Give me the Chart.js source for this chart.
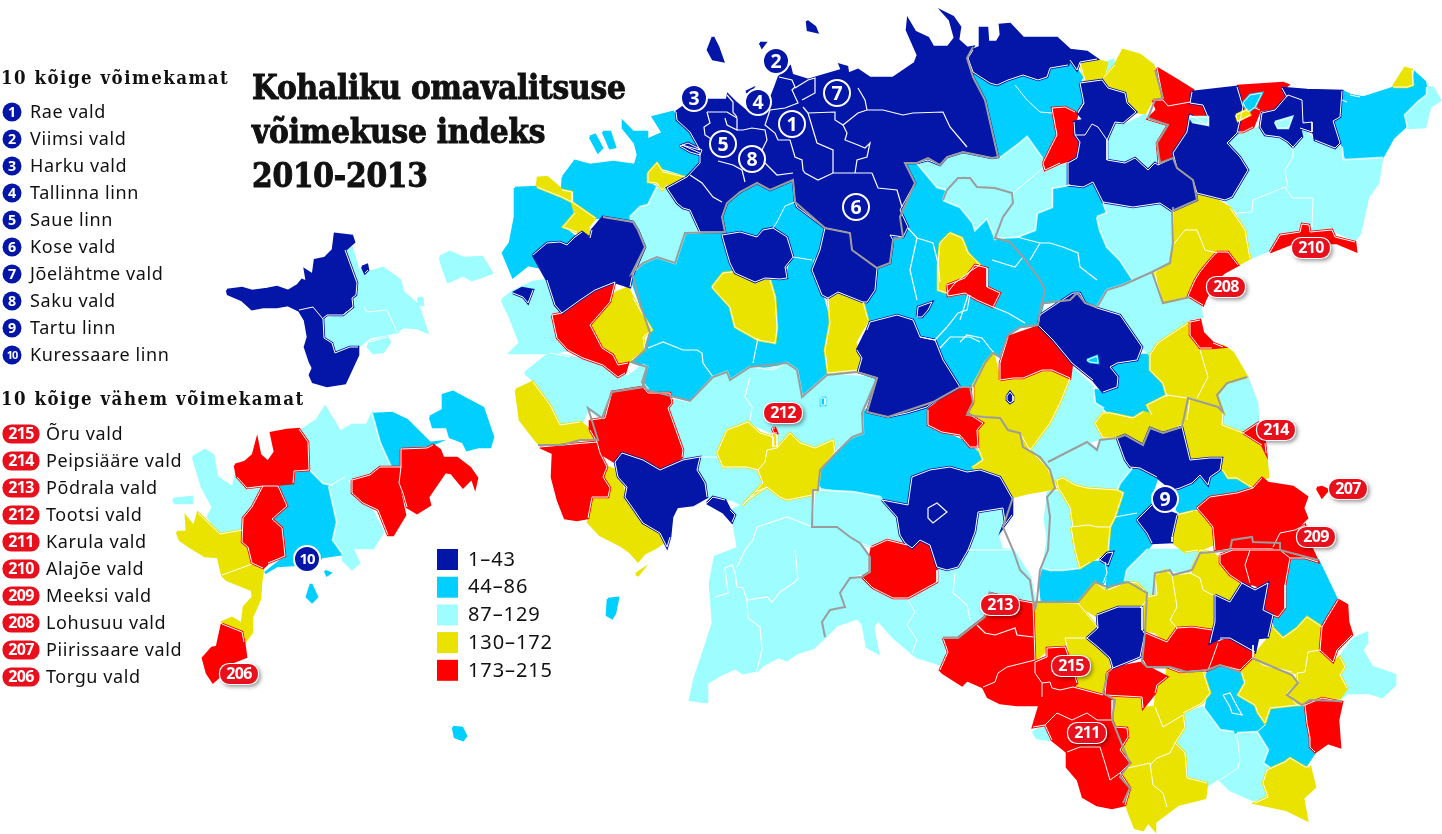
<!DOCTYPE html>
<html lang="et">
<head>
<meta charset="UTF-8">
<title>Kohaliku omavalitsuse võimekuse indeks 2010-2013</title>
<script src="https://cdn.jsdelivr.net/npm/chart.js"></script>
<style>
    html, body { margin: 0; padding: 0; background: #fff; }
    canvas { display: block; }
</style>
</head>
<body>
<canvas id="map" width="1442" height="834"></canvas>
<script>
// texts
const titleLines = ['Kohaliku omavalitsuse', 'võimekuse indeks', '2010-2013'];
const topHeading = '10 kõige võimekamat';
const topRanks = ['1', '2', '3', '4', '5', '6', '7', '8', '9', '10'];
const topNames = ['Rae vald', 'Viimsi vald', 'Harku vald', 'Tallinna linn', 'Saue linn', 'Kose vald', 'Jõelähtme vald', 'Saku vald', 'Tartu linn', 'Kuressaare linn'];
const bottomHeading = '10 kõige vähem võimekamat';
const bottomRanks = ['215', '214', '213', '212', '211', '210', '209', '208', '207', '206'];
const bottomNames = ['Õru vald', 'Peipsiääre vald', 'Põdrala vald', 'Tootsi vald', 'Karula vald', 'Alajõe vald', 'Meeksi vald', 'Lohusuu vald', 'Piirissaare vald', 'Torgu vald'];
const legendLabels = ['1–43', '44–86', '87–129', '130–172', '173–215'];
const legendColors = ['#0316a8', '#00cfff', '#9dfdff', '#eae300', '#ff0000'];

// municipality outlines, flat x,y lists, one list per index class
const class2Shapes = [
    [905,163,917,163,937,187,947,190,943,200,960,207,975,230,987,218,995,238,1017,237,1035,230,1037,213,1052,207,1052,188,1070,185,1088,187,1093,182,1103,202,1107,213,1097,217,1100,230,1107,247,1120,260,1133,280,1122,285,1107,290,1097,306,1085,303,1077,293,1070,300,1043,303,1040,315,1038,325,1020,327,1008,335,1000,357,993,352,982,363,973,387,950,393,960,387,943,360,935,340,920,337,913,320,897,315,870,322,863,310,867,302,875,290,877,268,890,263,893,240,890,235,908,228,900,217,915,183],
    [928,149,937,149,940,165,928,160],
    [632,280,643,263,657,257,675,263,685,233,725,232,735,273,755,282,785,280,793,257,812,260,812,270,822,295,830,323,825,350,828,373,802,397,797,370,787,363,755,368,750,367,730,380,727,372,713,377,690,401,647,390,642,382,647,367,632,362,645,350,650,333,640,303],
    [727,203,740,192,757,183,770,190,793,180,795,202,785,206,777,222,773,228,770,238,763,230,757,237,747,232,737,233,725,232,722,217],
    [785,206,795,202,797,207,825,228,822,247,812,260,793,257,787,237,773,228,777,222],
    [515,188,537,187,562,197,572,202,575,213,563,227,575,237,567,245,560,242,547,243,533,255,538,267,528,265,513,277,503,253,510,243,515,217],
    [563,177,575,161,590,165,613,162,635,165,638,155,635,143,623,128,623,122,633,132,647,132,647,140,663,133,653,117,673,112,677,120,690,132,700,150,682,145,700,153,700,163,687,177,680,173,660,167,648,173,648,183,657,188,648,205,640,207,632,213,633,222,605,217,597,218,572,202,572,192,562,190],
    [590,137,595,135,602,148,598,152], [603,132,610,132,615,147,610,148],
    [973,72,990,83,997,85,1008,80,1023,75,1015,85,1027,100,1040,112,1052,113,1057,133,1055,143,1045,160,1042,158,1027,137,1020,143,1000,158,985,100],
    [1015,85,1023,75,1038,80,1047,77,1050,68,1068,65,1070,60,1077,70,1082,77,1078,85,1083,103,1078,112,1068,107,1060,112,1053,107,1052,113,1040,112,1027,100],
    [1342,102,1362,98,1393,88,1412,87,1415,73,1425,82,1427,95,1418,102,1405,115,1405,127,1393,138,1382,158,1347,162,1343,147,1333,122,1340,117],
    [1342,91,1350,95,1360,97,1347,102,1342,100],
    [820,470,835,452,852,437,863,433,862,413,867,410,888,417,907,413,927,407,928,425,943,432,967,443,983,457,983,462,973,470,960,470,950,467,930,470,912,477,908,503,880,497,853,492,822,487,818,480],
    [1095,390,1103,392,1117,387,1118,377,1110,367,1117,363,1137,360,1142,355,1150,355,1150,370,1163,383,1167,395,1147,405,1152,415,1143,412,1133,418,1110,413,1103,407,1095,403],
    [1132,469,1140,468,1157,478,1153,490,1152,503,1140,515,1115,517,1123,493,1118,487,1120,483],
    [1178,488,1192,483,1200,475,1208,485,1210,477,1220,470,1228,470,1228,478,1247,477,1248,487,1237,493,1210,497,1197,508,1180,512,1177,510],
    [1108,550,1110,527,1115,517,1137,513,1147,533,1152,543,1147,550,1127,570,1125,582,1107,590,1108,570],
    [1040,583,1043,570,1050,572,1063,568,1078,567,1090,562,1105,562,1107,573,1103,583,1095,582,1078,602,1042,602],
    [1290,558,1307,557,1318,560,1337,600,1325,625,1322,625,1307,617,1297,630,1283,638,1275,627,1273,618,1278,617,1285,608,1285,585],
    [1207,673,1222,665,1242,673,1245,683,1238,695,1257,705,1260,715,1265,723,1257,732,1237,733,1223,730,1205,713,1208,697],
    [1265,725,1270,708,1297,705,1305,707,1307,723,1310,738,1315,752,1305,767,1290,758,1285,762,1267,770,1263,762,1268,750,1257,732],
    [430,417,443,410,443,395,453,392,483,408,493,437,490,447,478,447,467,450,463,442,450,437,447,427,433,427],
    [373,414,392,413,407,420,430,443,438,442,427,447,400,450,400,466,390,465,380,443],
    [280,486,294,471,308,470,318,478,329,486,337,522,333,540,343,554,322,557,317,563,293,565,277,566,265,573,285,557,282,528,272,520,287,506],
    [311,584,317,597,312,602,307,597], [325,571,330,573,327,575],
    [608,599,618,598,615,613,612,618,607,615],
    [453,727,462,728,466,736,463,740,455,737]
];
const class3Shapes = [
    [323,320,343,315,363,306,367,312,387,310,397,332,383,335,370,337,358,347,350,347,335,353,332,343,324,338],
    [346,250,352,248,358,270,367,273,383,268,400,280,403,292,418,305,427,332,417,328,403,327,397,332,387,310,367,312,363,306,343,315,353,307,352,298,356,295,357,283],
    [370,342,387,337,390,342,383,352,373,353,368,347],
    [440,257,450,252,463,258,482,257,492,273,472,280,463,275,448,282,442,265],
    [418,298,422,298,423,305,419,305],
    [300,431,317,420,325,407,333,420,340,432,352,425,367,425,372,414,380,443,390,465,370,475,352,480,345,477,333,485,323,483,310,470,309,443,303,433],
    [193,457,205,450,213,455,217,477,233,488,235,478,245,488,260,487,252,507,243,517,243,530,220,534,208,517,213,507,202,487],
    [329,486,345,477,352,488,370,506,383,532,373,548,352,548,359,563,352,569,343,560,343,554,333,540,337,522],
    [173,499,192,497,192,503,175,503],
    [1105,63,1113,60,1115,67,1108,71],
    [1112,123,1125,125,1145,115,1153,120,1170,125,1155,143,1158,163,1155,163,1148,170,1135,158,1125,163,1107,160,1107,140],
    [1227,142,1237,133,1260,128,1265,135,1280,137,1288,143,1293,157,1285,170,1285,187,1253,200,1252,212,1238,213,1225,200,1232,197,1248,170,1240,157,1228,157],
    [1293,147,1302,128,1313,140,1335,148,1342,148,1343,160,1382,158,1378,183,1368,197,1360,233,1355,240,1333,230,1312,230,1313,198,1292,198,1288,187,1285,170,1293,157],
    [1238,213,1252,212,1253,200,1285,187,1292,198,1313,198,1312,227,1300,232,1280,237,1270,250,1250,258,1243,227],
    [1427,87,1433,88,1440,100,1430,107,1425,127,1408,128,1405,115,1418,102,1427,95],
    [1097,217,1107,213,1103,202,1133,207,1160,204,1172,210,1173,243,1170,263,1152,272,1133,280,1120,260,1107,247,1100,230],
    [917,163,928,158,940,165,947,157,963,152,992,158,1000,158,1020,143,1027,137,1042,158,1043,168,1028,178,1013,192,995,188,977,187,970,178,958,178,947,190,937,187],
    [943,200,947,190,958,178,970,178,977,187,995,188,1012,193,1013,203,1003,217,995,238,987,218,975,230,973,223,960,207],
    [1013,193,1043,168,1068,165,1070,185,1052,188,1052,207,1037,213,1035,230,1017,237,995,238,1003,217,1013,203],
    [630,217,640,207,648,205,657,187,662,190,667,188,677,203,683,208,690,210,700,232,685,233,675,263,657,257,643,263,632,273,643,247,638,230],
    [502,300,512,292,533,282,547,280,555,305,562,313,552,315,557,338,568,350,550,353,525,353,510,353,520,343,510,317,505,307],
    [525,373,550,353,570,357,597,362,613,370,628,377,643,365,647,367,642,382,647,388,612,392,605,418,600,418,588,408,582,422,562,425,550,405,537,383],
    [672,398,690,402,713,377,727,372,730,380,750,367,773,370,787,363,797,370,802,397,827,375,877,378,862,413,863,433,852,437,835,452,833,440,815,448,800,443,790,433,778,445,773,433,748,422,727,430,717,457,700,456,683,457,683,450,673,417,668,408,675,405],
    [700,457,717,457,722,473,723,467,758,470,763,483,755,492,743,505,733,500,707,497,705,483,697,470],
    [735,515,733,510,743,505,755,492,767,487,780,497,787,500,813,490,812,527,837,527,850,537,860,543,870,557,870,572,862,577,850,578,840,593,845,607,830,610,822,622,825,637,813,648,797,653,787,660,778,657,763,665,758,670,743,673,735,668,720,675,707,683,707,702,690,700,695,677,702,657,713,623,710,583,715,557,738,548,733,520],
    [815,490,853,492,880,497,897,517,900,535,905,543,887,540,872,547,860,543,850,537,837,527,812,527],
    [825,637,822,622,830,610,845,607,840,593,850,578,862,575,873,588,893,598,908,600,915,612,907,625,917,640,912,653,893,637,878,620,873,627,878,653,867,647,863,625,858,618,837,625],
    [978,512,1003,508,1005,522,998,537,1002,550,1013,550,968,550,975,532],
    [937,570,958,567,968,550,1013,550,1030,577,1035,603,1017,598,992,593,988,593,983,617,977,623,958,638,945,638,943,665,917,657,912,653,917,640,907,625,915,612,908,600,935,583],
    [1030,450,1050,423,1060,403,1070,378,1072,368,1082,377,1093,387,1095,403,1103,408,1095,423,1103,438,1088,442,1048,460,1047,467],
    [1097,307,1107,290,1123,285,1152,272,1163,303,1190,297,1200,305,1202,317,1193,318,1188,322,1158,343,1150,355,1142,347,1120,315],
    [1247,377,1257,403,1258,420,1243,433,1222,425,1223,412,1217,395,1227,383],
    [1048,462,1088,442,1097,450,1103,438,1117,438,1125,460,1132,468,1120,483,1117,490,1087,488,1067,483,1057,487,1050,467],
    [1048,492,1067,492,1070,507,1073,527,1075,550,1080,568,1063,570,1050,570,1043,568,1048,540,1045,520],
    [1127,570,1147,550,1197,550,1195,562,1187,573,1170,570,1163,577,1155,573,1157,595,1147,593,1133,582,1125,580],
    [1033,732,1043,727,1052,740,1037,738],
    [1183,715,1203,707,1220,730,1233,732,1240,760,1238,768,1220,777,1208,785,1187,778,1185,753,1175,743,1180,738],
    [1237,733,1257,732,1268,750,1263,763,1270,768,1263,783,1268,797,1253,800,1230,790,1220,780,1238,768,1240,760],
    [1340,657,1350,643,1355,638,1367,633,1367,643,1362,650,1372,667,1395,675,1395,685,1382,697,1370,693,1348,693,1340,698,1347,688,1340,675,1345,667]
];
const class4Shapes = [
    [177,532,187,532,186,517,194,527,198,513,220,534,243,530,242,543,248,547,251,563,222,574,218,557,205,556,190,547,180,540],
    [222,575,252,564,263,568,261,583,260,599,252,617,252,632,245,642,242,630,232,627,223,622,232,618,242,624,244,607,253,597,252,590,227,580],
    [537,187,538,178,547,177,562,190,572,192,572,202,595,218,588,227,590,239,577,232,563,227,575,213,572,202,562,197],
    [648,173,657,163,663,172,685,177,667,185,662,190,657,183,648,182],
    [615,293,628,288,633,298,640,310,652,330,643,337,645,350,632,360,618,367,613,355,602,348,590,325,610,302],
    [712,287,723,273,733,272,757,283,770,280,775,297,777,328,775,343,758,340,735,327,730,307],
    [828,298,838,292,863,302,868,320,855,342,860,357,857,370,828,373,825,350,830,323],
    [940,243,950,233,962,238,968,253,980,265,972,270,955,283,947,293,938,290,938,265],
    [516,390,533,382,550,405,560,425,580,422,590,430,598,440,580,440,562,445,538,443,520,420],
    [607,467,615,470,620,480,627,500,632,507,643,523,663,530,667,540,655,548,645,553,638,561,630,552,620,545,600,535,588,522,592,497,608,497,610,488,603,477],
    [636,574,642,570,638,575],
    [717,453,727,430,748,422,760,433,773,437,773,447,767,450,763,462,758,470,747,467,737,467,723,467],
    [772,433,777,435,777,447,773,445],
    [758,470,765,462,767,450,777,448,790,433,800,443,815,448,833,440,835,452,820,470,818,490,812,495,787,500,780,497,767,487,758,493,747,500,743,505,755,492,763,483],
    [1080,63,1097,60,1107,63,1103,78,1093,82,1085,80],
    [1103,78,1115,65,1123,50,1140,55,1153,65,1163,98,1153,98,1145,113,1135,112,1125,93,1108,88],
    [1393,87,1405,68,1412,70,1413,85,1407,87],
    [1173,220,1173,207,1195,202,1197,193,1213,198,1230,208,1245,230,1248,248,1250,258,1237,265,1227,252,1217,253,1205,250,1197,230,1185,230,1173,243],
    [1155,272,1170,263,1173,245,1185,230,1197,230,1205,250,1217,253,1208,262,1200,272,1195,280,1188,297,1163,303,1157,283],
    [970,413,973,402,972,387,985,363,993,353,1000,380,1013,378,1023,378,1042,370,1052,370,1070,378,1060,403,1050,423,1030,450,1020,433,1008,430,1000,418,983,417],
    [967,415,983,417,1000,418,1008,430,1020,433,1030,450,1047,467,1057,488,1028,493,1012,497,1000,477,980,473,973,467,983,460,977,445,978,430],
    [1158,343,1188,323,1192,335,1200,350,1208,377,1197,398,1187,398,1167,397,1163,383,1150,370,1150,355],
    [1200,350,1212,348,1223,346,1233,353,1247,377,1227,383,1217,395,1223,412,1218,407,1197,398,1208,377],
    [1095,423,1103,413,1110,413,1133,418,1143,412,1152,415,1147,405,1167,395,1187,398,1190,398,1187,420,1163,433,1150,428,1143,445,1117,438,1103,438],
    [1190,398,1218,407,1223,412,1222,425,1243,433,1262,445,1266,453,1268,477,1258,480,1253,488,1237,478,1228,478,1223,470,1210,458,1190,460,1182,433,1187,420],
    [1057,480,1063,478,1075,485,1087,488,1117,490,1123,493,1115,517,1110,527,1098,527,1088,525,1073,527,1070,507,1058,487],
    [1071,527,1088,525,1098,527,1110,527,1108,550,1090,562,1080,568,1075,550],
    [1173,523,1177,515,1193,511,1205,515,1208,525,1220,532,1217,542,1207,547,1198,550,1185,552,1170,540],
    [1172,575,1192,573,1200,578,1203,590,1213,595,1215,622,1212,630,1192,627,1177,628,1170,620,1177,607],
    [1142,623,1147,597,1157,595,1155,575,1165,570,1172,575,1177,607,1170,620,1177,628,1167,642,1155,632,1143,630],
    [1190,573,1197,557,1200,550,1213,553,1242,583,1230,602,1213,595,1203,590,1200,578],
    [1078,602,1095,582,1105,590,1108,590,1127,582,1137,583,1147,593,1147,600,1140,608,1125,607,1118,607,1100,612,1095,615,1082,607],
    [1035,602,1078,603,1098,628,1087,638,1068,638,1063,650,1047,650,1035,660,1033,643],
    [1065,638,1087,638,1098,647,1110,658,1108,673,1103,693,1090,690,1075,685,1068,650],
    [1155,707,1157,685,1167,677,1167,668,1203,672,1210,693,1202,703,1183,713,1163,727],
    [1112,697,1143,698,1145,708,1155,707,1163,727,1183,715,1185,727,1175,743,1170,753,1157,758,1150,763,1128,768,1130,763,1120,750,1128,737,1127,728,1115,727,1112,720],
    [1150,765,1157,758,1170,753,1175,743,1185,753,1187,778,1207,783,1205,798,1177,805,1167,805,1163,793,1153,785],
    [1120,777,1128,768,1150,763,1153,785,1163,793,1167,807,1175,807,1155,822,1155,830,1148,822,1143,830,1135,828,1128,810,1127,805,1130,788],
    [1240,663,1253,657,1263,665,1292,676,1298,683,1287,693,1297,705,1270,708,1265,723,1258,713,1255,705,1238,695,1245,683,1242,673],
    [1253,657,1267,640,1273,628,1283,638,1297,628,1307,617,1322,627,1320,650,1308,652,1305,672,1297,673,1292,672,1263,665],
    [1297,673,1305,672,1308,652,1320,650,1333,662,1340,657,1345,667,1340,675,1347,688,1340,698,1322,698,1305,705,1297,705,1287,693,1298,683],
    [1267,770,1285,762,1290,758,1305,767,1310,767,1315,787,1303,798,1307,820,1287,810,1255,803,1268,797,1263,783]
];
const class5Shapes = [
    [235,465,245,462,253,455,257,440,260,455,268,462,275,452,271,433,287,430,299,429,308,442,309,470,294,471,293,483,263,486,247,488,237,477],
    [263,486,278,486,287,506,272,519,282,528,285,556,268,563,263,568,252,563,248,547,242,542,243,518,252,507],
    [352,480,370,475,380,467,401,467,398,483,405,515,393,535,388,535,378,510,363,503,352,493],
    [401,449,427,448,433,445,440,450,443,458,457,458,470,468,477,478,475,487,472,478,463,487,453,475,462,475,445,472,441,478,428,497,430,505,417,513,407,507,403,493,399,483,401,467],
    [222,624,242,632,244,642,246,657,233,662,223,673,213,682,207,673,203,658,212,648,217,647],
    [552,315,562,313,580,300,595,290,615,282,610,302,590,325,602,348,613,355,618,365,628,363,625,373,618,377,603,365,583,358,568,350,557,338],
    [590,420,605,418,612,392,643,387,648,393,670,393,672,403,668,408,683,450,682,457,663,472,643,460,622,453,615,462,600,453,597,442,590,430],
    [540,447,562,445,597,442,600,453,607,467,603,477,610,488,608,497,592,497,588,518,577,520,565,518,558,500,552,477,553,453],
    [772,428,775,428,777,433,774,433],
    [1043,163,1057,135,1052,108,1065,107,1075,112,1077,115,1074,127,1075,135,1079,143,1077,158,1060,163,1045,170],
    [1078,112,1084,103,1089,110,1085,115],
    [1157,68,1177,80,1193,90,1190,103,1168,106,1163,99],
    [1153,100,1163,100,1168,106,1190,102,1203,106,1208,118,1190,115,1187,132,1180,147,1170,152,1173,157,1159,165,1157,143,1168,125,1148,119,1157,110],
    [1237,86,1283,83,1288,85,1282,90,1287,97,1275,108,1262,110,1255,103,1262,93,1250,93,1243,110],
    [1237,122,1248,118,1255,108,1260,110,1253,127,1243,132,1238,132],
    [1270,252,1280,235,1300,232,1302,224,1309,225,1310,232,1332,230,1335,237,1355,242,1356,251,1337,243,1293,243],
    [1217,252,1228,252,1238,265,1225,272,1215,280,1205,300,1203,305,1188,296,1195,280,1200,272,1208,262],
    [947,285,965,278,975,265,987,268,987,287,1000,293,993,307,977,300,965,293,948,296],
    [928,410,950,393,970,387,973,387,973,403,967,413,983,423,977,430,978,447,970,447,960,435,942,432,928,425],
    [1000,380,1000,363,1008,337,1037,327,1053,340,1072,363,1070,378,1052,370,1042,370,1023,378,1013,378],
    [1190,322,1200,320,1203,333,1213,343,1223,347,1212,348,1200,348,1190,335],
    [1243,433,1258,423,1265,443,1266,453,1262,445],
    [1317,488,1322,487,1328,490,1322,497],
    [1197,508,1210,497,1237,493,1253,488,1262,478,1268,483,1293,487,1307,497,1303,508,1307,518,1295,530,1280,533,1273,547,1230,547,1215,550,1213,527,1205,517],
    [1280,533,1295,530,1305,525,1310,545,1318,562,1305,558,1290,558,1280,550,1273,547],
    [1220,555,1233,550,1250,550,1245,565,1252,580,1248,590,1242,583,1230,575,1220,563],
    [1250,550,1280,550,1290,558,1285,585,1285,608,1278,617,1273,615,1263,610,1268,583,1263,588,1250,583,1245,565],
    [1338,600,1347,605,1348,622,1352,635,1337,650,1333,662,1320,650,1322,627,1327,618],
    [1305,705,1322,698,1342,702,1338,720,1340,747,1328,743,1315,752,1310,747,1310,738,1307,723],
    [862,577,870,572,870,557,872,547,887,540,907,545,912,550,920,542,930,543,937,570,937,582,917,593,908,598,893,598,873,588],
    [943,638,958,638,977,623,985,617,990,593,1017,600,1033,603,1035,660,1007,667,998,673,995,682,983,687,967,680,962,685,943,673,940,670,948,652],
    [983,687,995,682,998,673,1007,667,1035,660,1043,693,1038,705,1017,705,1000,703,988,697],
    [1035,662,1047,657,1047,648,1065,647,1068,655,1077,683,1073,687,1060,690,1052,688,1050,682,1042,683,1035,673],
    [1042,683,1050,682,1052,688,1060,690,1073,687,1103,695,1112,700,1112,720,1097,720,1087,713,1072,720,1057,713,1045,725,1033,727,1042,697],
    [1045,725,1057,713,1072,720,1087,713,1097,720,1112,720,1115,727,1127,728,1128,737,1120,750,1130,763,1120,773,1110,780,1105,763,1100,747,1080,747,1067,752,1052,740],
    [1067,752,1080,747,1100,747,1105,763,1110,780,1120,773,1130,788,1125,805,1112,808,1097,805,1083,797,1078,780,1067,767],
    [1107,673,1113,668,1140,663,1157,672,1167,677,1157,685,1155,693,1143,708,1142,697,1105,695],
    [1143,632,1167,642,1177,628,1192,627,1212,630,1217,643,1213,657,1207,670,1180,672,1167,667,1147,667,1143,660],
    [1212,660,1218,643,1230,638,1253,645,1253,657,1240,670,1220,665,1208,670]
];
const class1Shapes = [
    [227,290,242,288,252,291,267,289,277,287,288,291,298,285,302,280,307,282,305,270,313,275,315,260,325,258,333,250,335,234,352,236,354,242,345,250,357,283,356,295,352,298,353,307,343,315,327,315,322,319,313,307,298,310,288,305,277,307,263,307,252,309,242,300,228,294],
    [299,310,313,307,323,319,324,338,332,343,335,353,350,347,358,347,358,355,345,383,327,386,313,382,310,375,313,368,310,362,305,347,308,337,305,320],
    [362,267,367,265,368,270,365,273],
    [676,112,683,107,707,100,727,100,728,95,735,102,747,112,767,108,775,88,779,77,790,67,792,75,808,80,825,75,842,70,840,65,847,67,848,74,858,70,870,78,893,78,915,63,918,55,907,30,908,20,915,32,928,38,933,47,948,47,955,38,950,20,943,12,953,17,960,27,958,40,967,48,973,47,967,58,973,77,985,100,998,157,992,158,963,152,947,157,940,165,928,160,917,163,905,163,915,183,900,210,908,227,903,237,890,235,893,240,890,263,877,268,852,250,850,233,825,228,797,207,795,202,793,180,770,190,757,183,740,192,727,203,722,217,725,232,700,232,690,210,683,208,677,203,667,188,687,177,700,163,700,153,682,145,700,150,690,132,677,120],
    [680,146,688,143,702,150,700,155,690,152],
    [713,37,718,47,723,61,713,59,708,50],
    [807,21,815,27,817,32,808,30],
    [760,43,765,43,762,47],
    [746,92,752,89,750,92],
    [968,58,973,50,980,47,980,28,987,28,988,42,997,42,1001,35,1000,25,1010,24,1023,38,1057,38,1070,50,1087,52,1097,59,1080,62,1077,70,1070,60,1068,65,1050,68,1047,77,1038,80,1023,75,1008,80,997,85,990,83,973,72],
    [1080,83,1102,80,1108,88,1125,93,1127,103,1136,112,1123,123,1115,122,1107,140,1098,127,1092,124,1085,135,1075,135,1074,122,1084,120,1078,113,1084,103],
    [1068,163,1077,158,1080,142,1075,135,1085,135,1092,124,1098,127,1107,140,1107,160,1125,163,1135,158,1148,170,1155,163,1158,165,1173,158,1177,168,1193,180,1197,200,1172,211,1160,203,1133,207,1103,202,1093,182,1083,187,1068,185],
    [1192,92,1237,87,1243,107,1237,133,1227,143,1240,157,1248,170,1232,197,1225,200,1197,193,1193,180,1177,168,1173,153,1187,132,1190,115,1208,125,1208,117,1203,105,1190,103],
    [1282,88,1307,90,1342,91,1340,117,1333,121,1340,143,1335,148,1315,140,1312,122,1303,120,1303,100,1290,94,1287,97],
    [1288,95,1302,100,1303,123,1312,122,1312,132,1300,128,1302,137,1293,147,1288,142,1280,137,1265,135,1260,127,1262,113,1275,110],
    [533,255,547,243,560,242,567,245,575,237,582,232,590,238,592,230,603,217,633,222,638,230,645,247,632,277,630,287,615,282,595,290,580,300,562,313,555,305,547,280],
    [513,293,522,288,533,290,528,303,523,297],
    [722,235,740,232,757,237,763,230,773,228,787,237,793,257,785,267,787,278,780,279,765,278,755,282,735,273,730,263,727,253],
    [825,228,850,233,852,250,877,268,875,290,867,302,863,302,838,292,828,298,822,295,812,270,820,250],
    [857,350,867,330,870,322,897,315,913,320,920,337,935,340,943,360,960,387,933,402,927,407,907,413,888,417,867,412,877,378,858,372,862,358],
    [917,317,918,307,932,302,928,310,922,317],
    [615,462,622,453,643,460,660,470,683,460,700,457,697,470,705,483,707,497,693,505,677,507,672,517,670,537,667,547,660,533,643,523,632,507,625,497,627,487,618,477],
    [707,503,713,497,725,500,730,510,735,515,732,522,723,512],
    [882,500,908,505,912,477,930,470,950,467,967,472,980,470,1000,477,1012,498,1012,515,1003,527,1005,522,1003,508,978,512,975,532,968,550,958,567,947,570,937,567,930,545,920,540,912,548,905,543,900,535,897,517],
    [1040,315,1073,293,1080,293,1085,303,1097,308,1120,315,1142,347,1137,360,1117,363,1110,367,1118,377,1117,387,1103,392,1093,380,1072,363,1053,340,1038,325],
    [1007,396,1010,392,1013,396,1013,401,1010,403,1007,400],
    [1117,438,1125,435,1143,445,1150,428,1163,433,1182,427,1190,460,1210,458,1222,458,1220,470,1210,477,1208,485,1200,475,1192,483,1180,488,1173,490,1157,477,1140,468,1130,467,1125,460],
    [1137,520,1152,505,1177,515,1172,537,1172,542,1152,543,1147,533],
    [1100,560,1107,553,1113,552,1108,565],
    [1215,595,1230,602,1242,583,1255,590,1268,583,1263,610,1273,615,1268,637,1258,638,1255,652,1230,638,1220,638,1210,643,1215,622],
    [1097,615,1118,607,1142,607,1142,630,1145,633,1140,657,1113,668,1110,658,1098,647,1087,638,1098,628]
];
// small spots lying on top of other municipalities, with their class
const spotShapes = [
    [1243,103,1250,95,1262,93,1255,107,1248,112],
    [1236,115,1247,110,1250,115,1238,121],
    [1275,122,1292,117,1288,128,1283,128,1278,128],
    [1190,117,1208,117,1208,125,1193,122],
    [1087,360,1097,356,1098,363,1090,362],
    [821,398,825,398,825,405,821,405]
];
const spotClasses = [2, 4, 3, 3, 2, 2];

// white municipality lines inside same-coloured areas
const innerLines = [
    [779,77,792,80,795,87,792,90,798,103,785,108,770,110,765,125,775,133,778,140,790,140,795,157,802,160,803,170,805,173,818,180,833,173,855,173,872,173],
    [872,173,878,188,897,190,902,207],
    [833,173,833,150,817,143,808,113,835,112,835,120,843,125,858,113,867,110,883,110,903,115,913,113,943,112,950,127,967,147],
    [858,88,865,100,867,110],
    [843,125,847,133,845,140,858,145,865,148,870,143,867,157,857,160,855,173],
    [795,88,808,80,815,78,815,93,802,100],
    [803,107,808,113],
    [707,112,727,112,737,118,737,130,727,125,725,118],
    [707,112,710,123,704,127,705,135,713,140],
    [727,95,733,102,733,112,737,117],
    [737,130,743,130,752,128,765,130,767,140,762,150],
    [718,161,733,165,742,170,745,182],
    [765,163,777,175,793,173],
    [690,175,702,183,713,197,722,202],
    [648,348,663,342,683,350,697,350,702,353,703,363,713,377],
    [758,338,753,363],
    [908,228,917,238,910,270,917,300],
    [917,238,933,243,938,263,940,282],
    [920,337,935,340,947,327,958,313,967,310,970,295],
    [940,348,950,337,970,337,980,342],
    [960,320,968,295],
    [993,307,1008,313,1025,323],
    [960,342,967,335,982,338,993,352],
    [1017,237,1040,243,1050,243,1063,247,1078,253,1080,267,1097,280],
    [1030,260,1040,243],
    [992,260,1015,267,1023,257],
    [750,377,745,397,752,407,750,420],
    [715,597,728,593,725,568,732,565,735,572,737,587,743,588,747,600,767,597,772,602,780,592,795,582,798,578,795,550],
    [747,600,748,618,760,627,762,650,757,670],
    [737,567,745,550],
    [745,550,753,540,757,527,787,517,813,527],
    [955,573,953,593,967,605,970,620],
    [928,508,937,503,947,512,933,523,928,518,928,508],
    [977,625,985,633,995,635,1015,628,1017,635,1033,637],
    [1223,695,1230,693,1238,708,1242,715,1232,713,1230,707,1223,695]
];
// grey county lines
const countyLines = [
    [603,217,633,222,638,230,645,247,632,273,643,263,657,257,675,263,685,233,725,232,722,217,727,203,740,192,757,183,770,190,793,180,795,202,825,228,850,233,852,250,877,268,890,263,893,240,903,237,900,217,915,183,905,163,917,163,928,158,940,165,947,157,963,152,992,158,998,157,985,100,973,77,967,58,973,47],
    [632,273,640,303,650,333,645,350,632,362,647,367,642,382,647,390,690,401,713,377,727,372,730,380,750,367,787,363,797,370,802,397,827,375,857,372,877,378,867,412,888,417,933,402,960,387,970,387,973,402,967,415,983,417,1000,418,1008,430,1020,433,1023,447,1040,457,1050,470,1055,488,1047,497,1050,517,1048,550,1040,570,1037,600,1035,610],
    [943,200,947,190,958,178,970,178,977,187,995,188,1012,193,1013,203,1003,217,995,238,1010,242,1023,257,1040,280,1045,290,1040,310,1043,303,1070,300,1077,293,1085,303,1097,307,1107,290,1123,285,1152,272,1170,263,1173,243,1172,211,1197,200,1193,180,1177,168,1173,158,1160,163,1157,143,1168,125,1148,118,1155,100,1163,98,1155,70],
    [973,387,985,363,993,353,1000,357,1008,335,1020,327,1038,325,1040,310],
    [1152,272,1163,303,1190,297],
    [877,378,862,413,863,433,852,437,837,452,820,470,818,490,813,490,812,527,837,527,850,537,860,543,870,557,870,572,862,577,850,578,840,593,845,607,830,610,822,622,825,637],
    [1048,462,1087,442,1097,450,1100,440,1117,438,1125,435,1143,445,1150,428,1163,433,1182,427,1188,398,1218,407,1223,412,1217,395,1227,383,1247,377],
    [1035,602,1078,602,1095,582,1107,587,1128,582,1147,593,1145,633,1142,662,1147,667,1170,667,1187,672,1207,670,1220,665,1240,672],
    [1252,658,1292,675,1298,683,1287,695,1302,705,1310,700,1342,701],
    [1108,673,1103,693,1115,700,1112,720,1127,757,1130,763,1120,777,1130,788,1123,803],
    [1153,595,1155,573,1170,570,1173,575,1192,570,1200,553,1213,552,1230,550,1232,540,1252,537,1253,542,1280,543,1280,550,1318,560],
    [538,445,562,445,580,440,598,440,588,408,602,418,612,392,643,387,647,367],
    [1013,497,1003,527,1013,550,1020,570,1030,580,1033,600,1035,610],
    [943,638,958,638,977,623,985,617,990,593,1017,600]
];

// where the rank badges sit on the map
const blueSpots = [[792,124],[776,61],[694,98],[758,102],[723,144],[856,207],[837,93],[752,159],[1165,499],[307,559]];
const redSpots = [[1071,666],[1276,430],[1000,605],[783,413],[1087,733],[1311,248],[1316,537],[1226,287],[1348,489],[239,674]];

const BLUE = legendColors[0];

function toPoints(flat, closed) {
    const pts = [];
    for (let i = 0; i < flat.length; i += 2) {
        pts.push({ x: flat[i], y: flat[i + 1] });
    }
    if (closed) pts.push({ x: flat[0], y: flat[1] });
    return pts;
}

// own-coloured border so that neighbours touch, the white edges come later
function shapeDataset(flat, color) {
    return {
        data: toPoints(flat, true),
        backgroundColor: color,
        borderColor: color,
        borderWidth: 2.6,
        fill: 'shape',
        pointRadius: 0,
        tension: 0
    };
}

function lineDataset(pts, color, width) {
    return {
        data: pts,
        borderColor: color,
        borderWidth: width,
        fill: false,
        pointRadius: 0,
        tension: 0
    };
}

// painted in this order, first ones at the bottom
const allShapes = [];
class2Shapes.forEach(s => allShapes.push([s, legendColors[1]]));
class3Shapes.forEach(s => allShapes.push([s, legendColors[2]]));
class4Shapes.forEach(s => allShapes.push([s, legendColors[3]]));
class5Shapes.forEach(s => allShapes.push([s, legendColors[4]]));
class1Shapes.forEach(s => allShapes.push([s, legendColors[0]]));
spotShapes.forEach((s, i) => allShapes.push([s, legendColors[spotClasses[i] - 1]]));

function isInside(flat, x, y) {
    let hit = false;
    const n = flat.length;
    for (let i = 0, j = n - 2; i < n; j = i, i += 2) {
        const yi = flat[i + 1], yj = flat[j + 1];
        if ((yi > y) !== (yj > y) && x < (flat[j] - flat[i]) * (y - yi) / (yj - yi) + flat[i]) {
            hit = !hit;
        }
    }
    return hit;
}

// an edge gets a white line only if a shape painted earlier lies behind it, coast edges stay plain
function sharedEdgeRuns(index) {
    const flat = allShapes[index][0];
    const runs = [];
    let run = null;
    const n = flat.length;
    for (let i = 0; i < n; i += 2) {
        const ax = flat[i], ay = flat[i + 1];
        const bx = flat[(i + 2) % n], by = flat[(i + 3) % n];
        const len = Math.hypot(bx - ax, by - ay) || 1;
        const mx = (ax + bx) / 2, my = (ay + by) / 2;
        let ox = mx - (by - ay) / len * 5, oy = my + (bx - ax) / len * 5;
        if (isInside(flat, ox, oy)) {
            ox = mx + (by - ay) / len * 5;
            oy = my - (bx - ax) / len * 5;
        }
        let shared = false;
        for (let k = 0; k < index && !shared; k++) {
            shared = isInside(allShapes[k][0], ox, oy);
        }
        if (shared) {
            if (!run) {
                run = [{ x: ax, y: ay }];
                runs.push(run);
            }
            run.push({ x: bx, y: by });
        } else {
            run = null;
        }
    }
    return runs;
}

const painted = allShapes.map(s => shapeDataset(s[0], s[1]));
allShapes.forEach((s, i) => {
    sharedEdgeRuns(i).forEach(r => painted.push(lineDataset(r, '#ffffff', 1)));
});
innerLines.forEach(l => painted.push(lineDataset(toPoints(l, false), '#ffffff', 1.2)));
countyLines.forEach(l => painted.push(lineDataset(toPoints(l, false), '#9c9c9c', 2)));

const SLAB = '"DejaVu Serif Condensed", "DejaVu Serif"';
const SANS = '"Noto Sans"';

function setText(ctx, font, color, align, spacing) {
    ctx.font = font;
    ctx.fillStyle = color;
    ctx.textAlign = align || 'left';
    ctx.textBaseline = 'middle';
    ctx.letterSpacing = spacing || '0px';
}

function drawBluePin(ctx, x, y, r, label, ring) {
    ctx.beginPath();
    ctx.arc(x, y, r, 0, Math.PI * 2);
    ctx.fillStyle = BLUE;
    ctx.fill();
    if (ring) {
        ctx.lineWidth = 2;
        ctx.strokeStyle = '#ffffff';
        ctx.stroke();
    }
    const size = label.length > 1 ? r * 1.15 : r * 1.5;
    setText(ctx, 'bold ' + size + 'px ' + SANS, '#ffffff', 'center', label.length > 1 ? '-1px' : '0px');
    ctx.fillText(label, x, y + 1);
}

function drawRedPill(ctx, x, y, w, h, label, onMap) {
    ctx.save();
    ctx.beginPath();
    ctx.roundRect(x - w / 2, y - h / 2, w, h, h / 2.2);
    if (onMap) {
        ctx.shadowColor = 'rgba(0,0,0,0.45)';
        ctx.shadowBlur = 4;
        ctx.shadowOffsetX = 2;
        ctx.shadowOffsetY = 2;
    }
    ctx.fillStyle = '#e8101c';
    ctx.fill();
    ctx.restore();
    if (onMap) {
        ctx.lineWidth = 1.2;
        ctx.strokeStyle = '#ffffff';
        ctx.stroke();
    }
    setText(ctx, 'bold 16px ' + SANS, '#ffffff', 'center', '-0.6px');
    ctx.fillText(label, x, y + 0.5);
}

const decorPlugin = {
    id: 'decor',
    afterDatasetsDraw(chart) {
        const ctx = chart.ctx;
        const xs = chart.scales.x;
        const ys = chart.scales.y;
        ctx.save();

        // the slab in the picture is heavier than any installed bold, so thicken it a little
        setText(ctx, 'bold 33px ' + SLAB, '#111111', 'left', '-0.2px');
        ctx.strokeStyle = '#111111';
        ctx.lineWidth = 0.9;
        titleLines.forEach((t, i) => {
            ctx.fillText(t, 252, 90 + i * 44);
            ctx.strokeText(t, 252, 90 + i * 44);
        });

        setText(ctx, 'bold 18.5px ' + SLAB, '#111111', 'left', '1.5px');
        ctx.fillText(topHeading, 1, 79);
        ctx.fillText(bottomHeading, 1, 400);

        topNames.forEach((name, i) => {
            const y = 112 + i * 27;
            drawBluePin(ctx, 12, y, 9.5, topRanks[i], false);
            setText(ctx, '18px ' + SANS, '#111111', 'left', '0.6px');
            ctx.fillText(name, 30, y + 1);
        });
        bottomNames.forEach((name, i) => {
            const y = 434 + i * 27;
            drawRedPill(ctx, 21, y, 37, 19, bottomRanks[i], false);
            setText(ctx, '18px ' + SANS, '#111111', 'left', '0.6px');
            ctx.fillText(name, 46, y + 1);
        });

        legendLabels.forEach((label, i) => {
            const y = 549 + i * 27.7;
            ctx.fillStyle = legendColors[i];
            ctx.fillRect(437, y, 21, 21);
            setText(ctx, '20px ' + SANS, '#111111', 'left', '0.9px');
            ctx.fillText(label, 468, y + 11);
        });

        blueSpots.forEach((p, i) => {
            drawBluePin(ctx, xs.getPixelForValue(p[0]), ys.getPixelForValue(p[1]), 13, topRanks[i], true);
        });
        redSpots.forEach((p, i) => {
            drawRedPill(ctx, xs.getPixelForValue(p[0]), ys.getPixelForValue(p[1]), 39, 21, bottomRanks[i], true);
        });
        ctx.restore();
    }
};

new Chart(document.getElementById('map'), {
    type: 'line',
    data: { datasets: painted.slice().reverse() },
    plugins: [decorPlugin],
    options: {
        responsive: false,
        animation: false,
        devicePixelRatio: 1,
        layout: { padding: 0 },
        clip: false,
        plugins: { legend: { display: false }, tooltip: { enabled: false }, title: { display: false } },
        scales: {
            x: { type: 'linear', min: 0, max: 1442, display: false },
            y: { type: 'linear', min: 0, max: 834, reverse: true, display: false }
        }
    }
});
</script>
</body>
</html>
